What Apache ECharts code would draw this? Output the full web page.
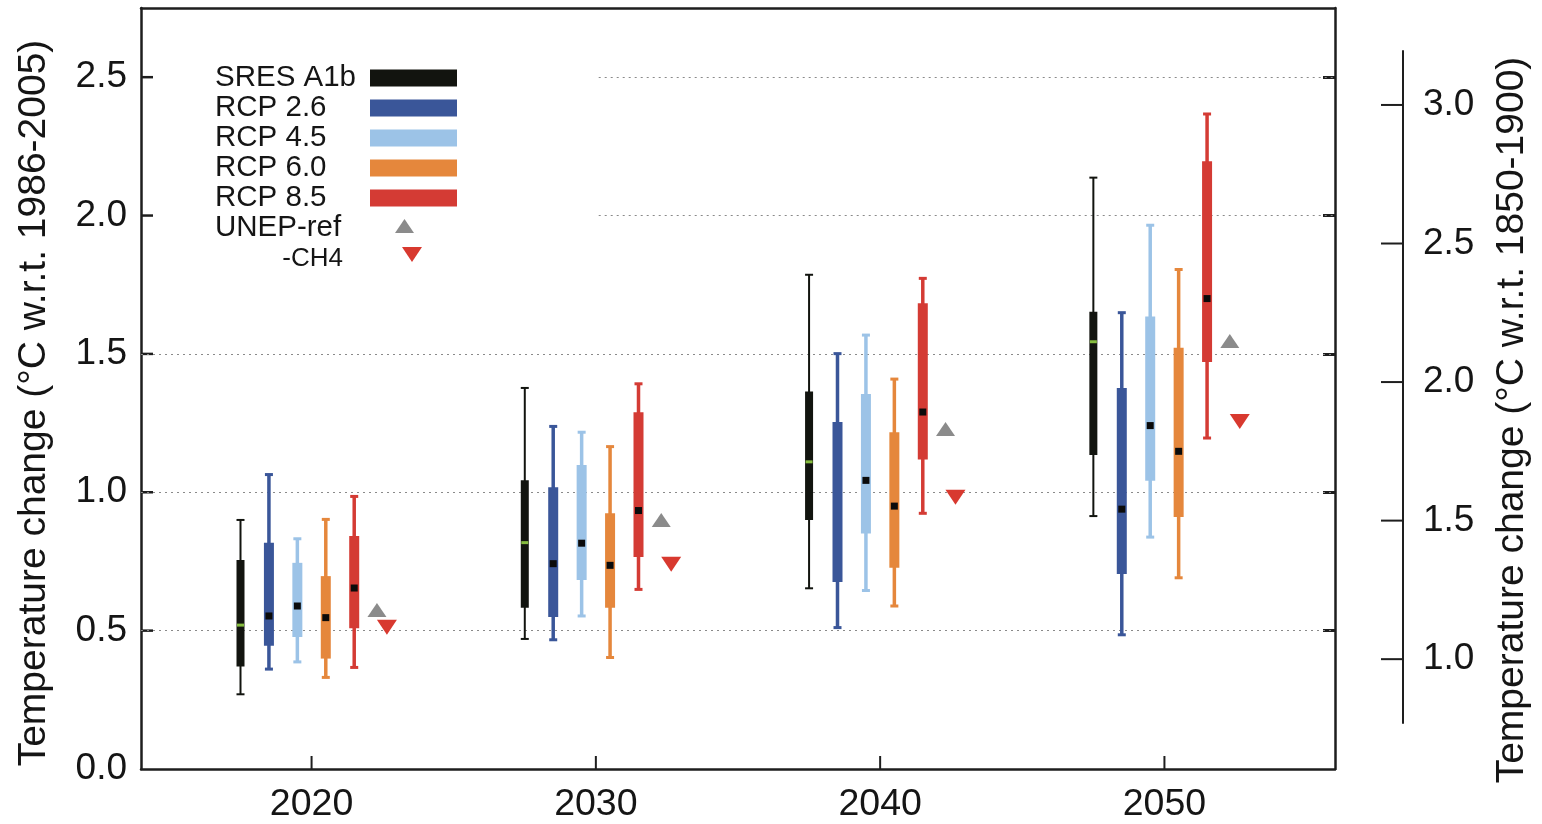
<!DOCTYPE html>
<html>
<head>
<meta charset="utf-8">
<script src="https://cdn.jsdelivr.net/npm/echarts@6/dist/echarts.min.js"></script>
<style>
  html, body { margin: 0; padding: 0; background: #fff; }
  #chart { width: 1542px; height: 824px; }
</style>
</head>
<body>
<div id="chart"></div>
<script>
// ---------- DATA ----------
const decades = [2020, 2030, 2040, 2050];
const scenarios = ['SRES A1b', 'RCP 2.6', 'RCP 4.5', 'RCP 6.0', 'RCP 8.5'];
// each row: [low, q1, median, q3, high] per decade
const sresA1b = [
  [0.27, 0.37, 0.52, 0.755, 0.90],
  [0.47, 0.583, 0.818, 1.043, 1.377],
  [0.653, 0.90, 1.11, 1.364, 1.786],
  [0.914, 1.135, 1.544, 1.652, 2.137]
];
const rcp26 = [
  [0.361, 0.445, 0.553, 0.818, 1.064],
  [0.467, 0.549, 0.742, 1.018, 1.238],
  [0.511, 0.676, null, 1.254, 1.501],
  [0.485, 0.705, 0.939, 1.377, 1.649]
];
const rcp45 = [
  [0.387, 0.477, 0.589, 0.745, 0.832],
  [0.553, 0.683, 0.816, 1.099, 1.217],
  [0.645, 0.851, 1.043, 1.355, 1.568],
  [0.838, 1.042, 1.241, 1.635, 1.965]
];
const rcp60 = [
  [0.331, 0.399, 0.547, 0.697, 0.902],
  [0.403, 0.583, 0.736, 0.924, 1.165],
  [0.589, 0.727, 0.950, 1.217, 1.409],
  [0.691, 0.911, 1.148, 1.522, 1.805]
];
const rcp85 = [
  [0.367, 0.509, 0.654, 0.842, 0.985],
  [0.649, 0.766, 0.934, 1.289, 1.392],
  [0.924, 1.118, 1.290, 1.683, 1.773],
  [1.196, 1.471, 1.700, 2.196, 2.367]
];
const unepRef = [0.575, 0.90, 1.229, 1.547];
const unepCH4 = [0.512, 0.74, 0.982, 1.256];

const leftTicks = [0, 0.5, 1.0, 1.5, 2.0, 2.5];
const rightTicks = [1.0, 1.5, 2.0, 2.5, 3.0];
const fullGridValues = [0.5, 1.0, 1.5];
const partialGridValues = [2.0, 2.5];
const leftAxisName = 'Temperature change (°C w.r.t. 1986-2005)';
const rightAxisName = 'Temperature change (°C w.r.t. 1850-1900)';
const refLabel = 'UNEP-ref';
const ch4Label = '-CH4';

// ---------- STYLE / LAYOUT ----------
const FONT = '"Liberation Sans", Arial, Helvetica, sans-serif';
const TXT = '#151515';
const boxSets = [sresA1b, rcp26, rcp45, rcp60, rcp85];
const colors = ['#12140f', '#3a5699', '#9cc3e7', '#e5873c', '#d43b34'];
const offsets = [-2.5, -1.5, -0.5, 0.5, 1.5];
const refOffset = 2.3, ch4Offset = 2.65;
const boxW = [8, 10, 10, 10, 10];
const whiskW = [2, 3.5, 3.5, 3.5, 3.5];
const capW = [8, 8, 8, 8, 8];
const capT = [2, 3, 3, 3, 3];
const refColor = '#8b8b8b', ch4Color = '#d8392f';
const AX = '#1e1e1e';
const shift = 0.6; // right-axis offset (1850-1900 baseline)
const pxPerUnit = 277.1;
const xMin = 2014, xMax = 2056;
const rightMin = shift + (770 - 723) / pxPerUnit;
const rightMax = shift + (770 - 51) / pxPerUnit;

function boxSeries(i) {
  return {
    type: 'custom',
    name: scenarios[i],
    xAxisIndex: 0, yAxisIndex: 0,
    z: 5,
    data: decades.map((d, k) => [d + offsets[i]].concat(boxSets[i][k].map(v => v === null ? NaN : v))),
    encode: { x: 0, y: [1, 2, 4, 5] },
    renderItem: function (params, api) {
      const x = api.value(0);
      const pLo = api.coord([x, api.value(1)]);
      const pQ1 = api.coord([x, api.value(2)]);
      const pQ3 = api.coord([x, api.value(4)]);
      const pHi = api.coord([x, api.value(5)]);
      const med = api.value(3);
      const cx = pLo[0];
      const c = colors[i];
      const children = [
        { type: 'line', shape: { x1: cx, y1: pLo[1], x2: cx, y2: pHi[1] }, style: { stroke: c, lineWidth: whiskW[i] } },
        { type: 'line', shape: { x1: cx - capW[i] / 2, y1: pLo[1], x2: cx + capW[i] / 2, y2: pLo[1] }, style: { stroke: c, lineWidth: capT[i] } },
        { type: 'line', shape: { x1: cx - capW[i] / 2, y1: pHi[1], x2: cx + capW[i] / 2, y2: pHi[1] }, style: { stroke: c, lineWidth: capT[i] } },
        { type: 'rect', shape: { x: cx - boxW[i] / 2, y: pQ3[1], width: boxW[i], height: pQ1[1] - pQ3[1] }, style: { fill: c } }
      ];
      if (typeof med === 'number' && !isNaN(med)) {
        const pm = api.coord([x, med]);
        if (i === 0) {
          children.push({ type: 'rect', shape: { x: cx - 3.5, y: pm[1] - 1.5, width: 7, height: 3 }, style: { fill: '#86bd3f' } });
        } else {
          children.push({ type: 'rect', shape: { x: cx - 3.5, y: pm[1] - 3.5, width: 7, height: 7 }, style: { fill: '#0b0b0b' } });
        }
      }
      return { type: 'group', children: children };
    }
  };
}

// tick-mark helper series: dir = [dx, dy] in pixels from the axis point
function tickSeries(name, xIdx, yIdx, points, dir, width) {
  return {
    type: 'custom', name: name, xAxisIndex: xIdx, yAxisIndex: yIdx, silent: true, z: 3,
    data: points, encode: { x: 0, y: 1 },
    renderItem: function (params, api) {
      const p = api.coord([api.value(0), api.value(1)]);
      return { type: 'line', shape: { x1: p[0], y1: p[1], x2: p[0] + dir[0], y2: p[1] + dir[1] }, style: { stroke: AX, lineWidth: width } };
    }
  };
}

const gridLineData = fullGridValues.map(v => [{ coord: [xMin, v] }, { coord: [xMax, v] }])
  .concat(partialGridValues.map(v => [{ coord: [2030.1, v] }, { coord: [xMax, v] }]));

// legend (drawn as graphic)
const legendElems = [];
scenarios.forEach((s, i) => {
  const cy = 78 + 30 * i;
  legendElems.push({ type: 'text', x: 215, y: cy, style: { text: s, font: '29.5px ' + FONT, fill: TXT, align: 'left', verticalAlign: 'middle' } });
  legendElems.push({ type: 'rect', shape: { x: 370, y: cy - 8.5, width: 87, height: 17 }, style: { fill: colors[i] } });
});
legendElems.push({ type: 'text', x: 215, y: 228, style: { text: refLabel, font: '29.5px ' + FONT, fill: TXT, align: 'left', verticalAlign: 'middle' } });
legendElems.push({ type: 'polygon', shape: { points: [[395, 233], [414, 233], [404.5, 219]] }, style: { fill: refColor } });
legendElems.push({ type: 'text', x: 343, y: 259, style: { text: ch4Label, font: '26px ' + FONT, fill: TXT, align: 'right', verticalAlign: 'middle' } });
legendElems.push({ type: 'polygon', shape: { points: [[402, 247], [422, 247], [412, 262]] }, style: { fill: ch4Color } });
// axis names
legendElems.push({ type: 'text', x: 34, y: 403, rotation: Math.PI / 2, style: { text: leftAxisName, font: '39px ' + FONT, fill: TXT, align: 'center', verticalAlign: 'middle' } });
legendElems.push({ type: 'text', x: 1512, y: 420, rotation: Math.PI / 2, style: { text: rightAxisName, font: '39px ' + FONT, fill: TXT, align: 'center', verticalAlign: 'middle' } });

const axisLineStyle = { color: AX, width: 2.5 };

const option = {
  animation: false,
  backgroundColor: '#fff',
  textStyle: { fontFamily: FONT },
  grid: [
    { left: 141, right: 207, top: 8, bottom: 54 },
    { left: 1300, right: 139, top: 51, bottom: 101 }
  ],
  xAxis: [
    {
      type: 'value', gridIndex: 0, min: xMin, max: xMax, position: 'bottom',
      axisLine: { show: true, onZero: false, lineStyle: axisLineStyle },
      axisTick: { show: false },
      axisLabel: { show: true, customValues: decades, formatter: v => String(Math.round(v)), fontSize: 37.5, color: TXT, margin: 17, fontFamily: FONT },
      splitLine: { show: false }
    },
    {
      type: 'value', gridIndex: 0, min: xMin, max: xMax, position: 'top',
      axisLine: { show: true, onZero: false, lineStyle: axisLineStyle },
      axisTick: { show: false }, axisLabel: { show: false }, splitLine: { show: false }
    },
    {
      type: 'value', gridIndex: 1, min: 0, max: 1, show: false
    }
  ],
  yAxis: [
    {
      type: 'value', gridIndex: 0, min: 0, max: 2.75, position: 'left',
      axisLine: { show: true, onZero: false, lineStyle: axisLineStyle },
      axisTick: { show: false },
      axisLabel: { show: true, customValues: leftTicks, formatter: v => v.toFixed(1), fontSize: 37, color: TXT, margin: 14, fontFamily: FONT },
      splitLine: { show: false }
    },
    {
      type: 'value', gridIndex: 0, min: 0, max: 2.75, position: 'right',
      axisLine: { show: true, onZero: false, lineStyle: axisLineStyle },
      axisTick: { show: true, inside: true, length: 12, customValues: leftTicks.slice(1), lineStyle: { color: AX, width: 3 } },
      axisLabel: { show: false }, splitLine: { show: false }
    },
    {
      type: 'value', gridIndex: 1, min: rightMin, max: rightMax, position: 'right',
      axisLine: { show: true, onZero: false, lineStyle: { color: AX, width: 2 } },
      axisTick: { show: false },
      axisLabel: { show: true, customValues: rightTicks, formatter: v => v.toFixed(1), fontSize: 37, color: TXT, margin: 20, fontFamily: FONT },
      splitLine: { show: false }
    }
  ],
  graphic: { elements: legendElems },
  series: [
    {
      type: 'line', name: 'grid', xAxisIndex: 0, yAxisIndex: 0, data: [], z: 1, silent: true,
      markLine: {
        silent: true, symbol: ['none', 'none'], animation: false,
        label: { show: false },
        lineStyle: { color: '#8a8a8a', width: 1.2, type: [2, 4] },
        emphasis: { disabled: true },
        data: gridLineData
      }
    },
    tickSeries('rightAxisTicks', 2, 2, rightTicks.map(v => [1, v]), [-22, 0], 2),
    tickSeries('leftAxisTicks', 0, 0, leftTicks.slice(1).map(v => [xMin, v]), [12, 0], 2.5),
    tickSeries('xAxisTicks', 0, 0, decades.map(d => [d, 0]), [0, -13], 2),
    boxSeries(0), boxSeries(1), boxSeries(2), boxSeries(3), boxSeries(4),
    {
      type: 'scatter', name: refLabel, xAxisIndex: 0, yAxisIndex: 0, z: 6,
      symbol: 'triangle', symbolSize: [19, 14],
      itemStyle: { color: refColor, opacity: 1 },
      data: decades.map((d, k) => [d + refOffset, unepRef[k]])
    },
    {
      type: 'scatter', name: ch4Label, xAxisIndex: 0, yAxisIndex: 0, z: 6,
      symbol: 'triangle', symbolRotate: 180, symbolSize: [20, 15],
      itemStyle: { color: ch4Color, opacity: 1 },
      data: decades.map((d, k) => [d + ch4Offset, unepCH4[k]])
    }
  ]
};

const chart = echarts.init(document.getElementById('chart'));
chart.setOption(option);
</script>
</body>
</html>
